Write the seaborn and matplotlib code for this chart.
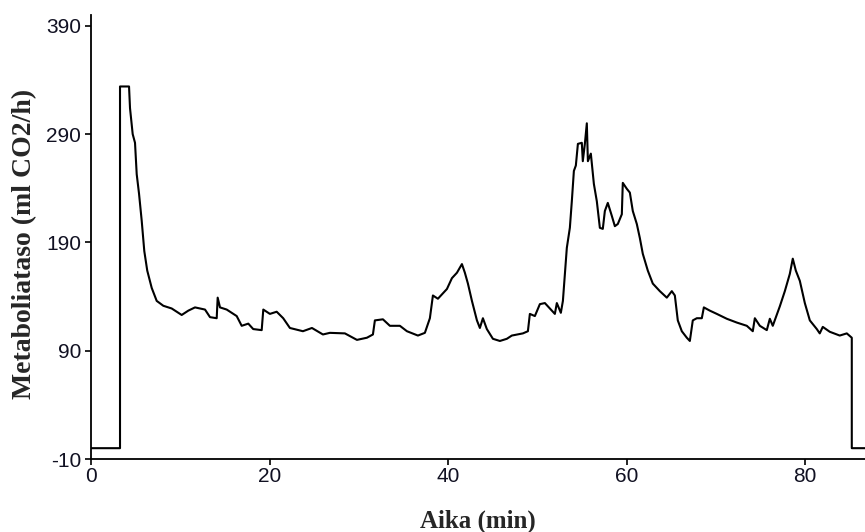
import matplotlib
matplotlib.use("Agg")
import matplotlib.pyplot as plt
import seaborn as sns
import pandas as pd

# Time (min) and metabolic rate (ml CO2/h)
time_min = [
    0.00, 3.25, 3.25, 4.26, 4.37, 4.67, 4.93, 5.12, 5.38, 5.68, 5.97, 6.30, 6.80, 7.36,
    8.10, 9.04, 10.16, 10.90, 11.65, 12.77, 13.33, 14.08, 14.19, 14.45, 15.20, 16.32,
    16.88, 17.62, 18.17, 19.12, 19.30, 20.04, 20.80, 21.53, 22.28, 23.74, 24.75, 25.98,
    26.76, 28.44, 29.79, 30.91, 31.58, 31.80, 32.70, 33.48, 34.60, 35.39, 36.62, 37.40,
    37.96, 38.30, 38.86, 39.87, 40.43, 40.99, 41.55, 41.88, 42.22, 42.67, 43.23, 43.56,
    43.90, 44.34, 45.02, 45.80, 46.58, 47.14, 48.38, 48.94, 49.16, 49.72, 50.28, 50.84,
    51.40, 51.96, 52.18, 52.63, 52.86, 53.08, 53.30, 53.64, 53.86, 54.09, 54.31, 54.54,
    54.98, 55.09, 55.32, 55.54, 55.66, 55.99, 56.33, 56.66, 57.00, 57.33, 57.56, 57.89,
    58.34, 58.68, 59.01, 59.46, 59.57, 60.02, 60.36, 60.69, 61.14, 61.48, 61.81, 62.37,
    62.93, 63.72, 64.50, 65.06, 65.40, 65.73, 66.18, 66.74, 67.08, 67.41, 67.86, 68.42,
    68.65, 69.32, 70.10, 71.22, 72.34, 73.46, 74.13, 74.36, 74.92, 75.70, 76.04, 76.37,
    77.16, 77.72, 78.28, 78.61, 78.95, 79.40, 79.96, 80.52, 81.30, 81.63, 81.97, 82.75,
    83.87, 84.66, 85.22, 85.22, 86.70,
]
rate_ml_co2_h = [
    0, 0, 334, 334, 314, 290, 282, 253, 235, 210, 182, 164, 148, 136,
    131.5, 129, 123, 127, 130, 128, 121, 120, 139, 130, 128, 122,
    113, 115, 110, 109, 128, 124, 126, 120, 111, 108, 111, 105,
    106.5, 106, 100, 102, 105, 118, 119, 113, 113, 108, 104, 106.5,
    120, 141, 138, 147, 157, 162, 170, 162, 152, 136, 118, 111,
    120, 110, 101, 99, 101, 104, 106, 108, 124, 122, 133, 134,
    129, 124, 134, 125, 136, 161, 185, 203.5, 228, 256, 261, 281,
    282, 265, 281, 300, 265, 272, 244, 228, 203.5, 202.5, 219, 226.5,
    214.5, 205, 207, 216, 245, 239.5, 236, 219, 207, 194, 179.5, 164,
    152, 145, 139, 145, 141, 118, 108, 102, 99, 118, 120, 120,
    130, 127, 124, 119.5, 116, 113, 108, 120, 113, 109, 119.5, 113,
    131, 145, 161, 175, 164, 154.5, 134, 118, 110, 106, 112, 107.5,
    104, 106, 102, 0, 0,
]
x_ticks = [0, 20, 40, 60, 80]
y_ticks = [-10, 90, 190, 290, 390]

df = pd.DataFrame({"Aika": time_min, "Rate": rate_ml_co2_h})

sns.set_style("ticks")
plt.rcParams["font.family"] = ["Liberation Sans", "DejaVu Sans"]
plt.rcParams["axes.unicode_minus"] = False

fig = plt.figure(figsize=(8.65, 5.32), dpi=100)
ax = fig.add_axes([0.1052, 0.1372, 0.8948, 0.8346])

sns.lineplot(data=df, x="Aika", y="Rate", ax=ax, sort=False, estimator=None,
             color="black", linewidth=1.5)

ax.set_xlim(0, 86.7)
ax.set_ylim(-10, 400)
ax.set_xticks(x_ticks)
ax.set_yticks(y_ticks)
ax.tick_params(axis="both", labelsize=15, length=4, width=1.2, color="black",
               labelcolor="#111122", direction="out")
ax.tick_params(axis="y", pad=3)
ax.tick_params(axis="x", pad=2)

for side in ["top", "right"]:
    ax.spines[side].set_visible(False)
for side in ["left", "bottom"]:
    ax.spines[side].set_linewidth(1.3)
    ax.spines[side].set_color("black")

serif = ["Liberation Serif", "DejaVu Serif"]
ax.set_xlabel("Aika (min)", family=serif, weight="bold", size=18)
ax.set_ylabel("Metaboliataso (ml CO2/h)", family=serif, weight="bold", size=20)
ax.xaxis.set_label_coords(0.5, -0.113)
ax.yaxis.set_label_coords(-0.069, 0.485)

fig.savefig("out.png", dpi=100)
